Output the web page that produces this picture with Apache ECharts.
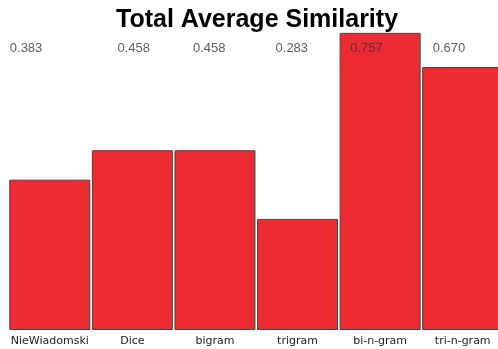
<!DOCTYPE html>
<html>
<head>
<meta charset="utf-8">
<script src="https://cdn.jsdelivr.net/npm/echarts@6/dist/echarts.min.js"></script>
<style>
  html, body { margin: 0; padding: 0; background: #fff; overflow: hidden; }
  /* the canvas runs a few pixels past the window, clipping the last bar */
  #chart { width: 504px; height: 349px; }
</style>
</head>
<body>
<div id="chart"></div>
<script>
// Similarity measures and their total average scores
const categories = ['NieWiadomski', 'Dice', 'bigram', 'trigram', 'bi-n-gram', 'tri-n-gram'];
const similarity = [0.383, 0.458, 0.458, 0.283, 0.757, 0.670];

// Value labels sit on one row near the top of the plot
const labelRow = 0.718;
const labelShiftX = [-40, -15, -22, -22, -30, -30];

const chart = echarts.init(document.getElementById('chart'), null, { renderer: 'canvas' });

chart.setOption({
  animation: false,
  backgroundColor: '#ffffff',
  title: {
    text: 'Total Average Similarity',
    left: 111,
    top: 3,
    textStyle: {
      fontFamily: 'Liberation Sans, Arial, sans-serif',
      fontWeight: 'bold',
      fontSize: 25,
      color: '#000'
    }
  },
  grid: { left: 8.5, right: 0, top: 16, bottom: 19, containLabel: false },
  xAxis: {
    type: 'category',
    data: categories,
    axisLine: { show: false },
    axisTick: { show: false },
    axisLabel: {
      margin: 5.5,
      interval: 0,
      fontFamily: 'DejaVu Sans, sans-serif',
      fontSize: 11,
      color: '#222'
    }
  },
  yAxis: {
    type: 'value',
    min: 0,
    max: 0.8,
    show: false,
    splitLine: { show: false }
  },
  series: [
    {
      type: 'bar',
      data: similarity,
      barWidth: 81,
      itemStyle: {
        color: '#EE2B33',
        borderColor: '#454545',
        borderWidth: 1
      },
      z: 2
    },
    {
      type: 'scatter',
      data: categories.map((c, i) => ({
        value: [c, labelRow],
        label: { offset: [labelShiftX[i], 0] }
      })),
      symbolSize: 0,
      silent: true,
      z: 5,
      label: {
        show: true,
        position: 'inside',
        align: 'left',
        verticalAlign: 'middle',
        formatter: p => similarity[p.dataIndex].toFixed(3),
        fontFamily: 'Liberation Sans, Arial, sans-serif',
        fontSize: 13,
        color: '#333'
      }
    }
  ]
});
</script>
</body>
</html>
